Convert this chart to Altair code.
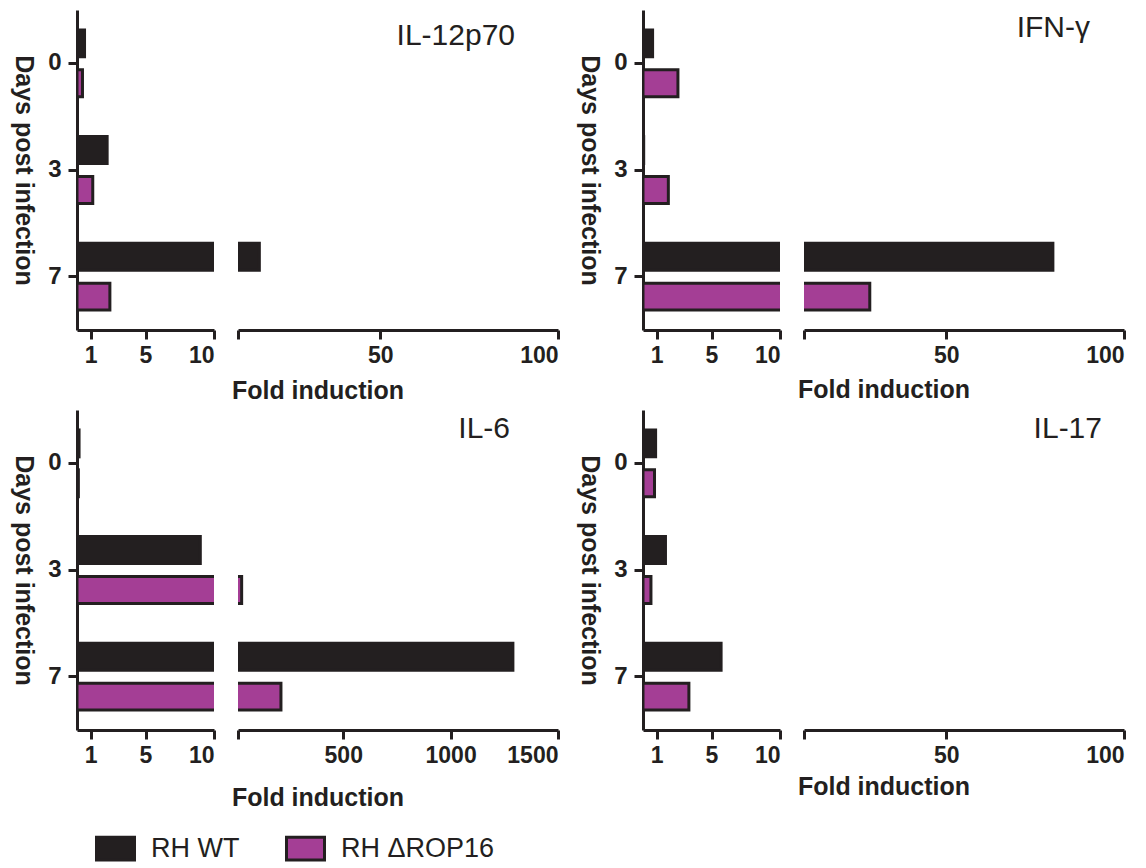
import altair as alt
import pandas as pd

# ---- data ----
days = ["0", "3", "7"]
series = ["RH WT", "RH ΔROP16"]
panel_names = ["IL-12p70", "IFN-γ", "IL-6", "IL-17"]

il12_wt = [0.55, 2.2, 16.0]
il12_rop16 = [0.4, 1.15, 2.4]
ifng_wt = [0.7, 0.05, 80.0]
ifng_rop16 = [2.55, 1.85, 28.5]
il6_wt = [0.15, 9.0, 1290.0]
il6_rop16 = [0.1, 27.0, 210.0]
il17_wt = [0.92, 1.64, 5.7]
il17_rop16 = [0.84, 0.58, 3.35]

break_value = 10
left_ticks = [1, 5, 10]
right_ticks_100 = [10, 50, 100]
right_ticks_1500 = [10, 500, 1000, 1500]

# ---- style ----
DARK = "#231F20"
PURPLE = "#A43E95"
FONT = "Liberation Sans, Arial, Helvetica, sans-serif"
L_W, R_W, H = 137, 320, 320
GAP = 24
SPACER_W = 37

legend = alt.Legend(
    orient="none", legendX=18, legendY=818, direction="horizontal", title=None,
    symbolType="M-1,-0.6H1V0.6H-1Z", symbolSize=1444, symbolStrokeColor=DARK,
    symbolStrokeWidth=3, symbolOpacity=1, labelFont=FONT, labelFontSize=27,
    labelColor=DARK, labelOffset=15, columnPadding=40, padding=0,
)
color = alt.Color("series:N", sort=series,
                  scale=alt.Scale(domain=series, range=[DARK, PURPLE]), legend=legend)
yoff = alt.YOffset("series:N", sort=series,
                   scale=alt.Scale(domain=series, paddingInner=0.325, paddingOuter=0))
yscale = alt.Scale(domain=days, paddingInner=0.374, paddingOuter=0.187)


def make_panel(name, wt, rop, xmax, rticks, tx, ty, xtitle_y):
    df = pd.DataFrame({
        "day": days + days,
        "series": [series[0]] * 3 + [series[1]] * 3,
        "value": wt + rop,
    })
    left = alt.Chart(df).mark_bar(clip=True, stroke=DARK, strokeWidth=3).encode(
        x=alt.X("value:Q", scale=alt.Scale(domain=[0, break_value], nice=False),
                axis=alt.Axis(values=left_ticks, format="d", title="Fold induction",
                              titleX=(L_W + GAP + R_W) / 2, titleY=xtitle_y,
                              titleAlign="center", titleBaseline="middle")),
        y=alt.Y("day:N", sort=days, scale=yscale,
                axis=alt.Axis(title="Days post infection", titleAngle=90,
                              titleX=-42, titleY=H / 2, titleAlign="center",
                              titleBaseline="top", labelAngle=0, labelPadding=7,
                              labelFontSize=24)),
        yOffset=yoff,
        color=color,
    ).properties(width=L_W, height=H)

    bars_r = alt.Chart(df).transform_filter(alt.datum.value > break_value).mark_bar(
        clip=True, stroke=DARK, strokeWidth=3
    ).encode(
        x=alt.X("value:Q", scale=alt.Scale(domain=[break_value, xmax], nice=False, zero=False),
                axis=alt.Axis(values=rticks, format="d", title=None,
                              labelExpr="datum.value == 10 ? '' : datum.label")),
        x2=alt.datum(0),
        y=alt.Y("day:N", sort=days, scale=yscale, axis=None),
        yOffset=yoff,
        color=color,
    )
    label = alt.Chart(pd.DataFrame({"name": [name]})).mark_text(
        align="right", baseline="alphabetic", font=FONT, fontSize=30, color=DARK
    ).encode(text="name:N", x=alt.value(tx), y=alt.value(ty))
    right = alt.layer(bars_r, label).properties(width=R_W, height=H)
    return left, right


def spacer():
    return alt.Chart(pd.DataFrame({"s": [0]})).mark_point(opacity=0).encode(
        x=alt.X("s:Q", axis=None), y=alt.Y("s:Q", axis=None)
    ).properties(width=SPACER_W, height=H)


p1 = make_panel(panel_names[0], il12_wt, il12_rop16, 100, right_ticks_100, 277, 35, 60)
p2 = make_panel(panel_names[1], ifng_wt, ifng_rop16, 100, right_ticks_100, 286, 27, 59)
p3 = make_panel(panel_names[2], il6_wt, il6_rop16, 1500, right_ticks_1500, 272, 28, 67)
p4 = make_panel(panel_names[3], il17_wt, il17_rop16, 100, right_ticks_100, 298, 28, 56)

chart = alt.concat(
    p1[0], p1[1], spacer(), p2[0], p2[1],
    p3[0], p3[1], spacer(), p4[0], p4[1],
    columns=5, spacing=alt.RowColnumber(row=80, column=GAP), bounds="flush",
).resolve_scale(x="independent", y="independent", color="shared").properties(
    padding={"left": 2, "top": 2, "right": 0, "bottom": 0}
).configure_view(stroke=None).configure_axis(
    grid=False, domainColor=DARK, domainWidth=3, tickColor=DARK, tickWidth=3,
    tickSize=9, labelFont=FONT, labelFontSize=23, labelFontWeight="bold",
    labelColor=DARK, labelPadding=5, titleFont=FONT, titleFontSize=25,
    titleFontWeight="bold", titleColor=DARK,
)

chart.save("out.html", embed_options={"renderer": "svg", "actions": False})
